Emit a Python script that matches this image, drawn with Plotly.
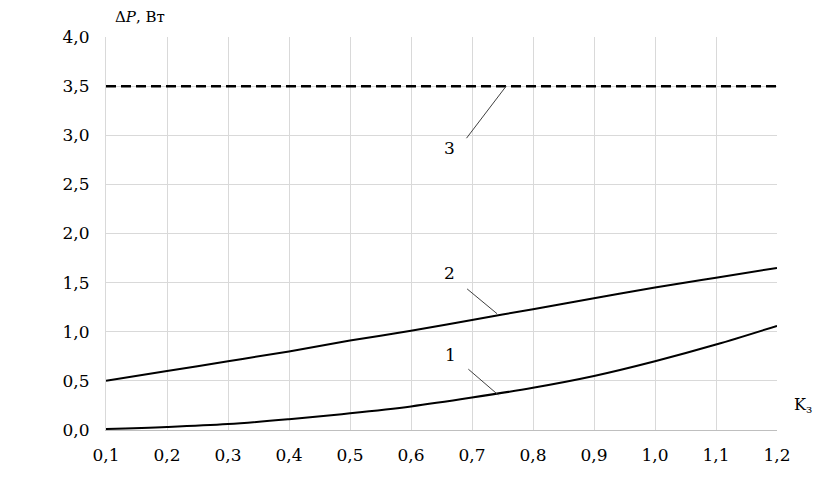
import plotly.graph_objects as go

# ── data ────────────────────────────────────────────────
k_z = [0.1, 0.2, 0.3, 0.4, 0.5, 0.6, 0.7, 0.8, 0.9, 1.0, 1.1, 1.2]
dp_1 = [0.01, 0.03, 0.06, 0.11, 0.17, 0.24, 0.33, 0.43, 0.55, 0.70, 0.87, 1.06]
dp_2 = [0.50, 0.60, 0.70, 0.80, 0.91, 1.01, 1.12, 1.23, 1.34, 1.45, 1.55, 1.65]
dp_3 = [3.5] * len(k_z)

x_ticks = [0.1, 0.2, 0.3, 0.4, 0.5, 0.6, 0.7, 0.8, 0.9, 1.0, 1.1, 1.2]
y_ticks = [0.0, 0.5, 1.0, 1.5, 2.0, 2.5, 3.0, 3.5, 4.0]

# curve labels: text, label pos, leader line start/end
curve_labels = [
    ('1', 0.665, 0.765, 0.694, 0.619, 0.743, 0.357),
    ('2', 0.663, 1.60, 0.692, 1.436, 0.741, 1.184),
    ('3', 0.663, 2.87, 0.691, 2.97, 0.756, 3.50),
]

FONT = 'DejaVu Serif'

fig = go.Figure()
fig.add_trace(go.Scatter(x=k_z, y=dp_1, mode='lines', line=dict(color='black', width=2), line_shape='spline'))
fig.add_trace(go.Scatter(x=k_z, y=dp_2, mode='lines', line=dict(color='black', width=2), line_shape='spline'))
fig.add_trace(go.Scatter(x=k_z, y=dp_3, mode='lines', line=dict(color='black', width=2.5, dash='10px,5px')))

for txt, lx, ly, x0, y0, x1, y1 in curve_labels:
    fig.add_annotation(x=lx, y=ly, text=txt, showarrow=False, font=dict(family=FONT, size=17, color='black'))
    fig.add_shape(type='line', x0=x0, y0=y0, x1=x1, y1=y1, line=dict(color='#404040', width=1))

fig.add_annotation(xref='paper', yref='paper', x=0.0104, y=1.052, xanchor='left', yanchor='middle',
                   text='Δ<i>P</i>, Вт', showarrow=False, font=dict(family=FONT, size=15, color='black'))
fig.add_annotation(xref='paper', yref='y', x=1.039, y=0.245, xanchor='center', yanchor='middle',
                   text='K<sub>з</sub>', showarrow=False, font=dict(family=FONT, size=16, color='black'))

fig.update_layout(
    width=838, height=478,
    margin=dict(l=98, r=69, t=29, b=56),
    paper_bgcolor='white', plot_bgcolor='white',
    showlegend=False,
    separators=', ',
    font=dict(family=FONT, size=17, color='black'),
    xaxis=dict(range=[0.1, 1.2], tickvals=x_ticks, tickformat='.1f',
               tickfont=dict(family=FONT, size=17, color='black'),
               showgrid=True, gridcolor='#d9d9d9', gridwidth=1,
               showline=True, linecolor='#bfbfbf', linewidth=1,
               zeroline=False, ticks='', ticklabelstandoff=10),
    yaxis=dict(range=[0, 4.0], tickvals=y_ticks, tickformat='.1f',
               tickfont=dict(family=FONT, size=17, color='black'),
               showgrid=True, gridcolor='#d9d9d9', gridwidth=1,
               showline=True, linecolor='#d9d9d9', linewidth=1,
               zeroline=False, ticks='', ticklabelstandoff=12),
)

fig.write_html('out.html')
